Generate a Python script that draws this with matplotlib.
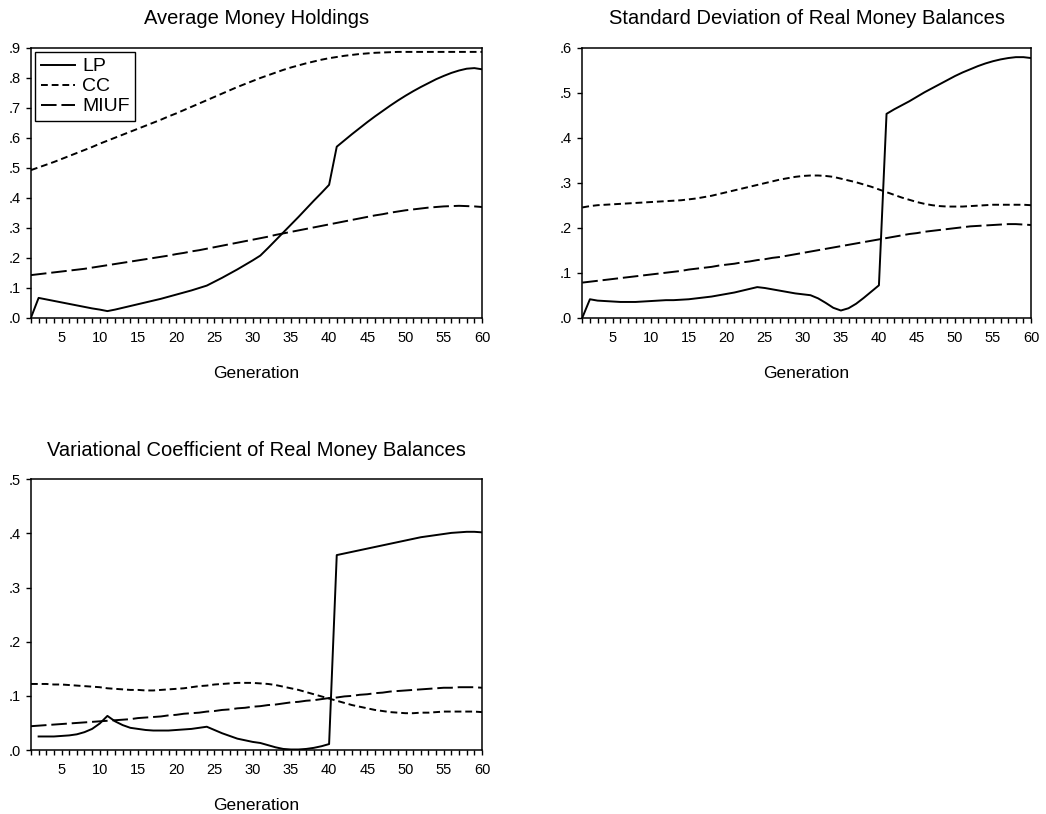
import numpy as np
import matplotlib.pyplot as plt
from matplotlib.ticker import FuncFormatter, MultipleLocator

plt.rcParams['font.family'] = ['Liberation Sans', 'DejaVu Sans']

generation = np.arange(1, 61)

# Average money holdings
avg_lp = [0.000, 0.066, 0.061, 0.056, 0.051, 0.046, 0.041, 0.036, 0.031, 0.027,
          0.022, 0.027, 0.033, 0.039, 0.045, 0.051, 0.057, 0.063, 0.070, 0.077,
          0.084, 0.091, 0.099, 0.107, 0.120, 0.133, 0.147, 0.161, 0.176, 0.191,
          0.207, 0.232, 0.258, 0.284, 0.310, 0.336, 0.363, 0.390, 0.416, 0.443,
          0.570, 0.591, 0.612, 0.632, 0.652, 0.671, 0.689, 0.707, 0.724, 0.740,
          0.755, 0.769, 0.782, 0.795, 0.806, 0.816, 0.824, 0.830, 0.832, 0.828]
avg_cc = [0.492, 0.501, 0.510, 0.519, 0.529, 0.539, 0.549, 0.559, 0.569, 0.580,
          0.590, 0.600, 0.610, 0.620, 0.630, 0.640, 0.650, 0.660, 0.671, 0.681,
          0.692, 0.703, 0.714, 0.725, 0.736, 0.747, 0.758, 0.769, 0.779, 0.789,
          0.799, 0.808, 0.817, 0.826, 0.834, 0.841, 0.848, 0.854, 0.860, 0.865,
          0.869, 0.873, 0.876, 0.879, 0.881, 0.883, 0.884, 0.885, 0.886, 0.886,
          0.886, 0.886, 0.886, 0.886, 0.886, 0.886, 0.886, 0.886, 0.886, 0.886]
avg_miuf = [0.142, 0.145, 0.148, 0.151, 0.154, 0.157, 0.160, 0.163, 0.167, 0.171,
            0.175, 0.179, 0.183, 0.187, 0.191, 0.195, 0.199, 0.203, 0.207, 0.212,
            0.216, 0.221, 0.225, 0.230, 0.235, 0.240, 0.245, 0.250, 0.255, 0.260,
            0.265, 0.270, 0.276, 0.281, 0.286, 0.291, 0.296, 0.301, 0.306, 0.311,
            0.316, 0.321, 0.326, 0.331, 0.336, 0.341, 0.345, 0.350, 0.354, 0.358,
            0.361, 0.364, 0.367, 0.369, 0.371, 0.372, 0.373, 0.372, 0.371, 0.369]

# Standard deviation of real money balances
sd_lp = [0.000, 0.041, 0.038, 0.037, 0.036, 0.035, 0.035, 0.035, 0.036, 0.037,
         0.038, 0.039, 0.039, 0.040, 0.041, 0.043, 0.045, 0.047, 0.050, 0.053,
         0.056, 0.060, 0.064, 0.068, 0.066, 0.063, 0.060, 0.057, 0.054, 0.052,
         0.050, 0.043, 0.033, 0.022, 0.016, 0.021, 0.031, 0.044, 0.058, 0.072,
         0.453, 0.463, 0.472, 0.481, 0.491, 0.501, 0.510, 0.519, 0.528, 0.537,
         0.545, 0.552, 0.559, 0.565, 0.570, 0.574, 0.577, 0.579, 0.579, 0.577]
sd_cc = [0.245, 0.248, 0.250, 0.251, 0.252, 0.253, 0.254, 0.255, 0.256, 0.257,
         0.258, 0.259, 0.260, 0.261, 0.263, 0.265, 0.268, 0.271, 0.275, 0.279,
         0.283, 0.287, 0.291, 0.295, 0.299, 0.303, 0.307, 0.310, 0.313, 0.315,
         0.316, 0.316, 0.315, 0.313, 0.309, 0.305, 0.301, 0.296, 0.291, 0.285,
         0.279, 0.273, 0.267, 0.262, 0.257, 0.253, 0.250, 0.248, 0.247, 0.247,
         0.247, 0.248, 0.249, 0.250, 0.251, 0.251, 0.251, 0.251, 0.251, 0.250]
sd_miuf = [0.078, 0.080, 0.082, 0.084, 0.086, 0.088, 0.090, 0.092, 0.094, 0.096,
           0.098, 0.100, 0.102, 0.104, 0.107, 0.109, 0.111, 0.113, 0.116, 0.118,
           0.120, 0.123, 0.125, 0.128, 0.130, 0.133, 0.135, 0.138, 0.141, 0.144,
           0.147, 0.150, 0.153, 0.156, 0.159, 0.162, 0.165, 0.168, 0.171, 0.174,
           0.177, 0.180, 0.183, 0.186, 0.188, 0.191, 0.193, 0.195, 0.197, 0.199,
           0.201, 0.203, 0.204, 0.205, 0.206, 0.207, 0.208, 0.208, 0.207, 0.206]

# Variational coefficient (LP has no value for the first generation)
vc_lp = [np.nan, 0.025, 0.025, 0.025, 0.026, 0.027, 0.029, 0.033, 0.039, 0.049,
         0.063, 0.053, 0.046, 0.041, 0.039, 0.037, 0.036, 0.036, 0.036, 0.037,
         0.038, 0.039, 0.041, 0.043, 0.037, 0.031, 0.026, 0.021, 0.018, 0.015,
         0.013, 0.009, 0.005, 0.002, 0.001, 0.001, 0.002, 0.004, 0.007, 0.011,
         0.360, 0.363, 0.366, 0.369, 0.372, 0.375, 0.378, 0.381, 0.384, 0.387,
         0.390, 0.393, 0.395, 0.397, 0.399, 0.401, 0.402, 0.403, 0.403, 0.402]
vc_cc = [0.122, 0.122, 0.122, 0.121, 0.121, 0.120, 0.119, 0.118, 0.117, 0.116,
         0.114, 0.113, 0.112, 0.111, 0.111, 0.110, 0.110, 0.111, 0.112, 0.113,
         0.114, 0.116, 0.118, 0.119, 0.121, 0.122, 0.123, 0.124, 0.124, 0.124,
         0.123, 0.122, 0.120, 0.117, 0.114, 0.111, 0.107, 0.103, 0.099, 0.095,
         0.091, 0.087, 0.083, 0.080, 0.077, 0.074, 0.072, 0.070, 0.069, 0.068,
         0.068, 0.069, 0.069, 0.070, 0.071, 0.071, 0.071, 0.071, 0.071, 0.070]
vc_miuf = [0.044, 0.045, 0.046, 0.047, 0.048, 0.049, 0.050, 0.051, 0.052, 0.053,
           0.054, 0.055, 0.056, 0.057, 0.059, 0.060, 0.061, 0.062, 0.064, 0.065,
           0.067, 0.068, 0.069, 0.071, 0.072, 0.074, 0.075, 0.077, 0.078, 0.080,
           0.081, 0.083, 0.084, 0.086, 0.088, 0.089, 0.091, 0.092, 0.094, 0.096,
           0.097, 0.099, 0.100, 0.102, 0.103, 0.105, 0.106, 0.108, 0.109, 0.110,
           0.111, 0.112, 0.113, 0.114, 0.115, 0.115, 0.116, 0.116, 0.116, 0.115]

series_names = ['LP', 'CC', 'MIUF']
line_styles = ['-', (0, (3.5, 2)), (0, (8, 2.5))]

panels = [
    ('Average Money Holdings', [avg_lp, avg_cc, avg_miuf], 0.9,
     [0.0296, 0.6097, 0.4312, 0.3317]),
    ('Standard Deviation of Real Money Balances', [sd_lp, sd_cc, sd_miuf], 0.6,
     [0.5567, 0.6097, 0.4290, 0.3317]),
    ('Variational Coefficient of Real Money Balances', [vc_lp, vc_cc, vc_miuf], 0.5,
     [0.0296, 0.0786, 0.4312, 0.3326]),
]

fig = plt.figure(figsize=(10.46, 8.14), dpi=100)

axes = []
for title, data, ymax, rect in panels:
    ax = fig.add_axes(rect)
    for values, name, ls in zip(data, series_names, line_styles):
        ax.plot(generation, values, color='black', linestyle=ls,
                linewidth=1.4, label=name)
    ax.set_xlim(1, 60)
    ax.set_ylim(0, ymax)
    ax.xaxis.set_major_locator(MultipleLocator(5))
    ax.xaxis.set_minor_locator(MultipleLocator(1))
    ax.yaxis.set_major_locator(MultipleLocator(0.1))
    ax.yaxis.set_major_formatter(FuncFormatter(lambda v, p: ('%.1f' % v).lstrip('0')))
    ax.tick_params(axis='both', which='both', direction='out', length=3.5,
                   width=1, labelsize=10.5, top=False, right=False)
    ax.tick_params(axis='x', which='both', pad=6)
    ax.tick_params(axis='y', which='both', pad=4)
    for spine in ax.spines.values():
        spine.set_linewidth(1.1)
    ax.set_title(title, fontsize=14.5, pad=17)
    ax.set_xlabel('Generation', fontsize=12.5, labelpad=15)
    axes.append(ax)

leg = axes[0].legend(loc='upper left', fontsize=14, handlelength=1.75,
                     handletextpad=0.35, labelspacing=0.12, borderpad=0.3,
                     borderaxespad=0.22, fancybox=False, edgecolor='black',
                     framealpha=1)
leg.get_frame().set_linewidth(1.0)

fig.savefig('out.png', dpi=100)
